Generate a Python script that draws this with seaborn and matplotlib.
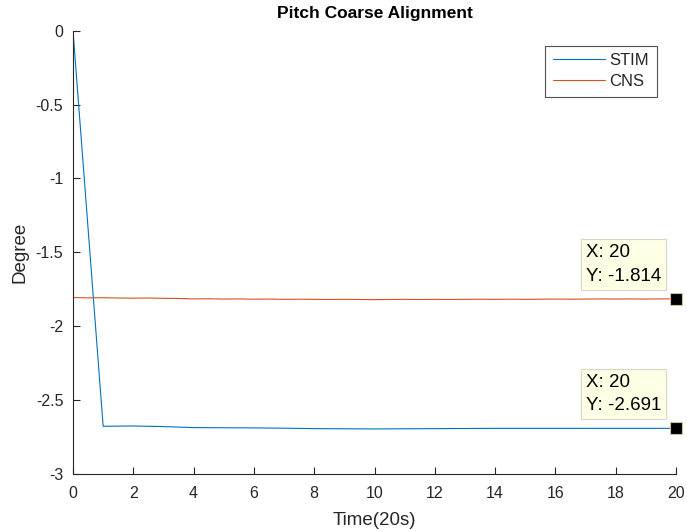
import matplotlib
matplotlib.use("Agg")
import matplotlib.pyplot as plt
import seaborn as sns
import pandas as pd
import numpy as np

# ---- data ----
stim_x = [0, 1, 2, 3, 4, 5, 6, 7, 8, 9, 10, 11, 12, 13, 14, 15, 16, 17, 18, 19, 20]
stim_y = [0.0, -2.677, -2.675, -2.679, -2.686, -2.687, -2.688, -2.690, -2.693, -2.694, -2.695,
          -2.694, -2.693, -2.692, -2.691, -2.691, -2.691, -2.691, -2.691, -2.691, -2.691]

cns_x = [0, 0.5, 1, 1.5, 2, 2.5, 3, 3.5, 4, 4.5, 5, 5.5, 6, 6.5, 7, 7.5, 8, 8.5, 9, 9.5, 10,
         10.5, 11, 11.5, 12, 12.5, 13, 13.5, 14, 14.5, 15, 15.5, 16, 16.5, 17, 17.5, 18, 18.5,
         19, 19.5, 20]
cns_y = [-1.806, -1.808, -1.807, -1.809, -1.810, -1.809, -1.811, -1.812, -1.815, -1.814,
         -1.816, -1.815, -1.817, -1.816, -1.818, -1.817, -1.818, -1.819, -1.818, -1.819,
         -1.820, -1.819, -1.818, -1.819, -1.818, -1.819, -1.818, -1.817, -1.818, -1.817,
         -1.818, -1.817, -1.816, -1.817, -1.816, -1.815, -1.816, -1.815, -1.816, -1.815, -1.814]

x_ticks = [0, 2, 4, 6, 8, 10, 12, 14, 16, 18, 20]
y_ticks = [0, -0.5, -1, -1.5, -2, -2.5, -3]
y_ticklabels = ["0", "-0.5", "-1", "-1.5", "-2", "-2.5", "-3"]

tips = [(20, -1.814), (20, -2.691)]

# ---- style ----
sns.set_theme(style="white")
plt.rcParams['font.family'] = ['Liberation Sans', 'DejaVu Sans']
plt.rcParams['axes.unicode_minus'] = False

fig = plt.figure(figsize=(6.87, 5.31), dpi=100)
ax = fig.add_axes([73/687, 1-474/531, (676-73)/687, (474-30.7)/531])

df_stim = pd.DataFrame({"x": stim_x, "y": stim_y})
df_cns = pd.DataFrame({"x": cns_x, "y": cns_y})
sns.lineplot(data=df_stim, x="x", y="y", ax=ax, color="#0072BD", lw=0.8, label="STIM")
sns.lineplot(data=df_cns, x="x", y="y", ax=ax, color="#D95319", lw=0.8, label="CNS")

ax.set_xlim(0, 20)
ax.set_ylim(-3, 0)
ax.set_xticks(x_ticks)
ax.set_xticklabels([str(t) for t in x_ticks])
ax.set_yticks(y_ticks)
ax.set_yticklabels(y_ticklabels)

axcol = "#262626"
for s in ["top", "right"]:
    ax.spines[s].set_visible(False)
for s in ["left", "bottom"]:
    ax.spines[s].set_color(axcol)
    ax.spines[s].set_linewidth(0.8)
ax.tick_params(direction="in", length=5, width=0.8, colors=axcol, labelsize=11.5,
               left=True, bottom=True)
ax.tick_params(axis="x", pad=8.5)
ax.tick_params(axis="y", pad=7)

ax.set_title("Pitch Coarse Alignment", fontsize=12.5, fontweight="bold", color="black", pad=9)
ax.set_xlabel("Time(20s)", fontsize=13.5, color=axcol, labelpad=8)
ax.set_ylabel("Degree", fontsize=13.5, color=axcol, labelpad=5)

leg = ax.legend(loc="upper right", bbox_to_anchor=(0.968, 0.966), borderaxespad=0,
                frameon=True, fancybox=False, fontsize=12, handlelength=3.1,
                borderpad=0.45, labelspacing=0.35, handletextpad=0.3)
leg.get_frame().set_edgecolor("#262626")
leg.get_frame().set_linewidth(0.8)

for (tx, ty) in tips:
    ax.plot([tx], [ty], marker="s", ms=8, color="black", mec="#C8C89A", mew=0.8,
            clip_on=False, zorder=5)
    ax.annotate(f"X: {tx}\nY: {ty}", xy=(tx, ty), xycoords="data",
                xytext=(-90, 14), textcoords="offset pixels",
                ha="left", va="bottom", fontsize=13.5, color="black", linespacing=1.5,
                bbox=dict(boxstyle="square,pad=0.27", fc="#FFFFE6", ec="#D8D8C8", lw=0.8),
                zorder=6)

fig.savefig("out.png", dpi=100)
